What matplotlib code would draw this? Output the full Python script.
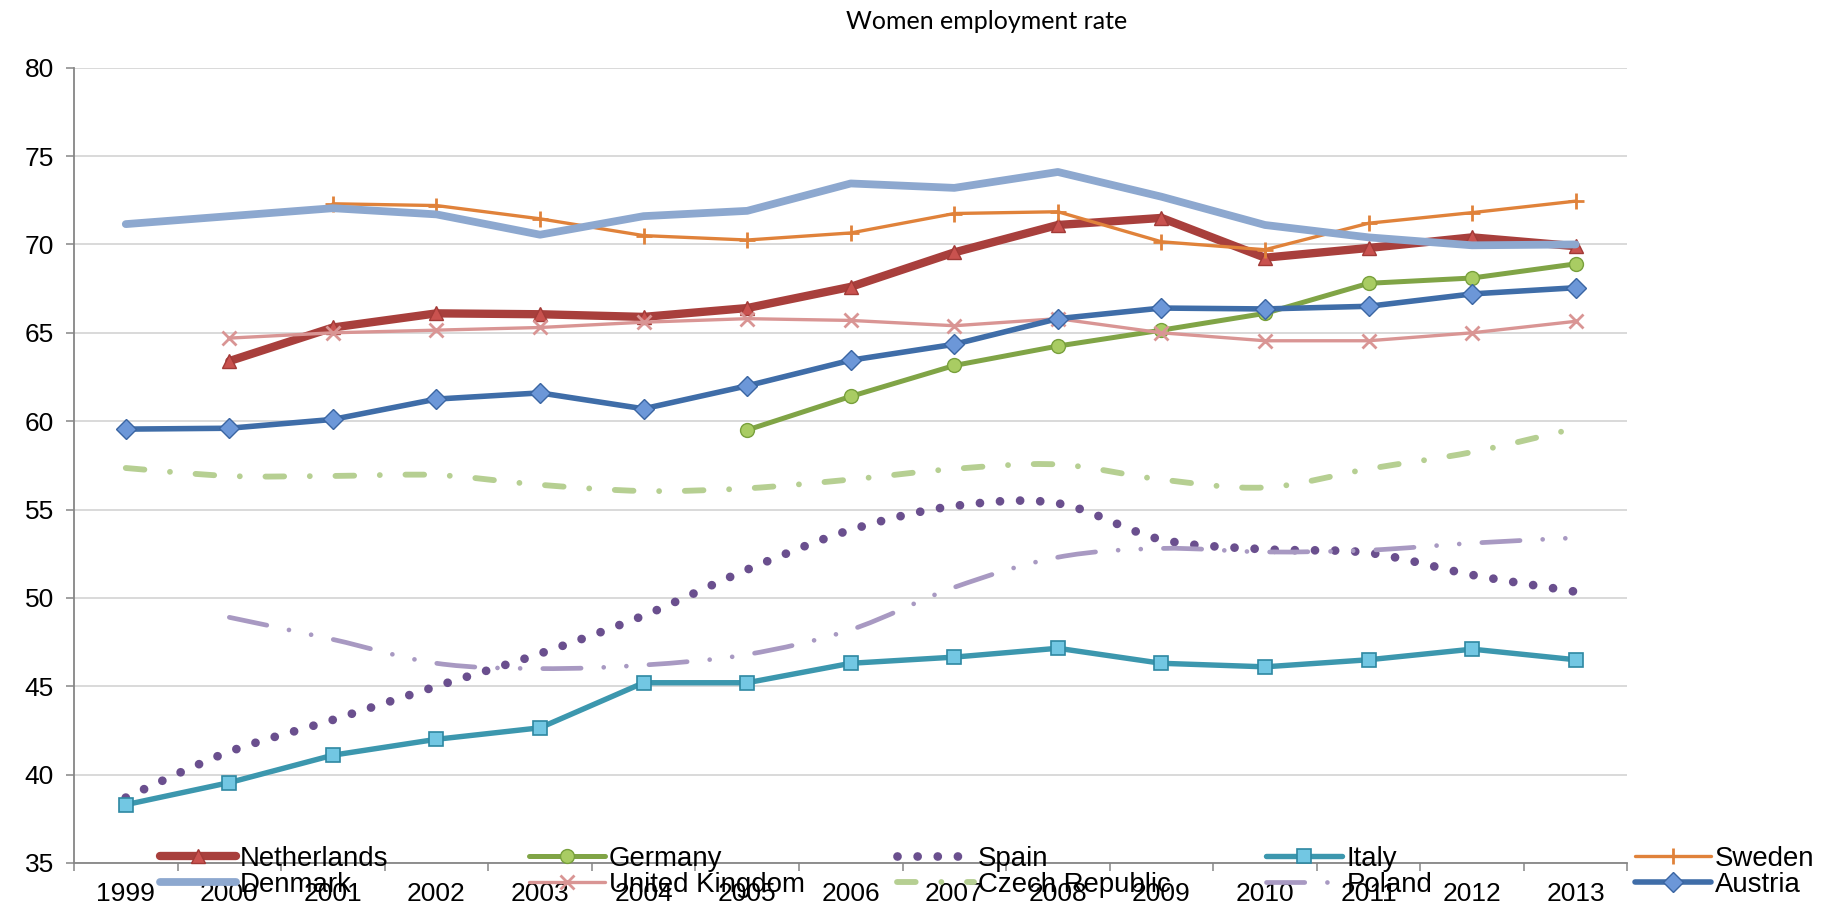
import numpy as np
import matplotlib
matplotlib.use("Agg")
import matplotlib.pyplot as plt
from matplotlib.path import Path
from matplotlib.patches import PathPatch
from matplotlib.lines import Line2D

# ---------------- data ----------------
years = [str(y) for y in range(1999, 2014)]
nan = np.nan
netherlands = [nan, 63.4, 65.3, 66.1, 66.05, 65.9, 66.4, 67.6, 69.55, 71.1, 71.5, 69.25, 69.8, 70.4, 69.9]
germany = [nan, nan, nan, nan, nan, nan, 59.5, 61.4, 63.15, 64.25, 65.15, 66.1, 67.8, 68.1, 68.9]
spain = [38.7, 41.3, 43.1, 45.0, 46.85, 49.0, 51.6, 53.85, 55.2, 55.35, 53.3, 52.75, 52.55, 51.3, 50.35]
italy = [38.3, 39.55, 41.1, 42.0, 42.65, 45.2, 45.2, 46.3, 46.65, 47.15, 46.3, 46.1, 46.5, 47.1, 46.5]
sweden = [nan, nan, 72.3, 72.2, 71.45, 70.5, 70.25, 70.65, 71.75, 71.85, 70.15, 69.7, 71.2, 71.8, 72.45]
denmark = [71.15, 71.6, 72.05, 71.7, 70.55, 71.6, 71.9, 73.45, 73.2, 74.1, 72.7, 71.1, 70.4, 69.95, 70.0]
united_kingdom = [nan, 64.7, 65.0, 65.15, 65.3, 65.6, 65.8, 65.7, 65.4, 65.8, 65.0, 64.55, 64.55, 65.0, 65.65]
czech_republic = [57.35, 56.9, 56.9, 56.95, 56.4, 56.05, 56.2, 56.7, 57.3, 57.55, 56.7, 56.25, 57.3, 58.25, 59.6]
poland = [nan, 48.9, 47.65, 46.3, 46.0, 46.2, 46.8, 48.2, 50.6, 52.3, 52.8, 52.6, 52.7, 53.1, 53.4]
austria = [59.55, 59.6, 60.1, 61.25, 61.6, 60.7, 62.0, 63.45, 64.35, 65.8, 66.4, 66.35, 66.5, 67.2, 67.55]

title = "Women employment rate"

# ---------------- styles ----------------
W = 1824.0
H = 910.0
FONT = "Liberation Sans"
TICK_SIZE = 19
LEGEND_SIZE = 19.9

styles = {
    "Netherlands": dict(data=netherlands, color="#A83F3C", lw=6.0, marker="^", ms=10,
                        mfc="#C9524F", mec="#A23A37", mew=1.0),
    "Germany": dict(data=germany, color="#80A446", lw=3.6, marker="o", ms=10,
                    mfc="#A9CC63", mec="#78A03C", mew=1.0),
    "Spain": dict(data=spain, color="#6A4F8E", lw=6.3, smooth=True,
                  dashes=(0.001, 2.3)),
    "Italy": dict(data=italy, color="#3C97AE", lw=3.9, marker="s", ms=10,
                  mfc="#72C7E3", mec="#2E88A2", mew=1.2),
    "Sweden": dict(data=sweden, color="#E0823A", lw=2.4, marker="+", ms=12,
                   mfc="#E0823A", mec="#E0823A", mew=2.0),
    "Denmark": dict(data=denmark, color="#8DA8CF", lw=5.6),
    "United Kingdom": dict(data=united_kingdom, color="#D99594", lw=2.4, marker="x", ms=10,
                           mfc="#D99594", mec="#D99594", mew=2.0),
    "Czech Republic": dict(data=czech_republic, color="#B6CF92", lw=4.2, smooth=True,
                           dashes=(3.2, 4.4, 0.001, 4.4)),
    "Poland": dict(data=poland, color="#A899C2", lw=3.4, smooth=True,
                   dashes=(8.1, 4.8, 0.001, 4.8, 0.001, 4.8)),
    "Austria": dict(data=austria, color="#3F6DA8", lw=4.0, marker="D", ms=10,
                    mfc="#6C97D8", mec="#3A65A2", mew=1.0),
}
draw_order = ["Netherlands", "Germany", "Spain", "Italy", "Sweden",
              "Denmark", "United Kingdom", "Czech Republic", "Poland", "Austria"]
legend_columns = [["Netherlands", "Denmark"], ["Germany", "United Kingdom"],
                  ["Spain", "Czech Republic"], ["Italy", "Poland"],
                  ["Sweden", "Austria"]]


def smooth_path(xs, ys):
    pts = np.column_stack([xs, ys]).astype(float)
    n = len(pts)
    verts = [pts[0]]
    codes = [Path.MOVETO]
    for i in range(n - 1):
        p0 = pts[i - 1] if i > 0 else pts[i]
        p1 = pts[i]
        p2 = pts[i + 1]
        p3 = pts[i + 2] if i + 2 < n else pts[i + 1]
        c1 = p1 + (p2 - p0) / 6.0
        c2 = p2 - (p3 - p1) / 6.0
        verts += [c1, c2, p2]
        codes += [Path.CURVE4] * 3
    return Path(verts, codes)


fig = plt.figure(figsize=(W / 100, H / 100), dpi=100, facecolor="white")
ax_left, ax_right = 74 / W, 1627.5 / W
ax_bottom, ax_top = 1 - 863 / H, 1 - 67.7 / H
ax = fig.add_axes([ax_left, ax_bottom, ax_right - ax_left, ax_top - ax_bottom])

x_all = np.arange(len(years))
for i, name in enumerate(draw_order):
    st = styles[name]
    y = np.array(st["data"], dtype=float)
    ok = ~np.isnan(y)
    xs, ys = x_all[ok], y[ok]
    z = 2 + i
    if st.get("smooth"):
        patch = PathPatch(smooth_path(xs, ys), fill=False, edgecolor=st["color"],
                          lw=st["lw"], linestyle=(0, st["dashes"]), zorder=z)
        patch.set_capstyle("round")
        patch.set_joinstyle("round")
        ax.add_patch(patch)
    else:
        ax.plot(xs, ys, color=st["color"], lw=st["lw"], marker=st.get("marker", "None"),
                ms=st.get("ms", 0), mfc=st.get("mfc"), mec=st.get("mec"),
                mew=st.get("mew", 1.0), solid_joinstyle="round", solid_capstyle="round",
                zorder=z)

# axes
ax.set_xlim(-0.5, len(years) - 0.5)
ax.set_ylim(35, 80)
ax.set_yticks(np.arange(35, 81, 5))
ax.set_xticks(np.arange(-0.5, len(years), 1.0))
ax.set_xticks(x_all, minor=True)
ax.set_xticklabels(years, minor=True)
ax.tick_params(axis="x", which="major", length=5.8, width=1.1, color="#868686",
               labelbottom=False)
ax.tick_params(axis="x", which="minor", length=0, pad=14.0, labelsize=TICK_SIZE)
ax.tick_params(axis="y", length=5.5, width=1.1, color="#868686", pad=9.0,
               labelsize=TICK_SIZE)
for lab in ax.get_xticklabels(minor=True) + ax.get_yticklabels():
    lab.set_fontfamily(FONT)
ax.grid(axis="y", color="#D9D9D9", lw=1.4, zorder=0)
ax.set_axisbelow(True)
for s in ["top", "right"]:
    ax.spines[s].set_visible(False)
for s in ["left", "bottom"]:
    ax.spines[s].set_color("#868686")
    ax.spines[s].set_linewidth(1.3)

# title
fig.text(987 / W, 1 - 21.5 / H, title, ha="center", va="center", fontsize=18,
         family="Lato", color="black")

# legend (five columns, two rows, like the spreadsheet legend)
col_x = [160 + 368.75 * k for k in range(5)]
for k, col in enumerate(legend_columns):
    handles = []
    for name in col:
        st = styles[name]
        if st.get("smooth"):
            h = Line2D([], [], color=st["color"], lw=st["lw"], linestyle=(0, st["dashes"]),
                       dash_capstyle="round")
        else:
            h = Line2D([], [], color=st["color"], lw=st["lw"], marker=st.get("marker", "None"),
                       ms=st.get("ms", 0), mfc=st.get("mfc"), mec=st.get("mec"),
                       mew=st.get("mew", 1.0), solid_capstyle="round")
        handles.append(h)
    fig.legend(handles=handles, labels=col, loc="center left",
               bbox_to_anchor=(col_x[k] / W, 1 - 871.7 / H), frameon=False,
               borderpad=0, borderaxespad=0, handlelength=2.75, handletextpad=0.15,
               labelspacing=0.0, numpoints=1,
               prop={"family": FONT, "size": LEGEND_SIZE})

fig.savefig("out.png", dpi=100, facecolor="white")
